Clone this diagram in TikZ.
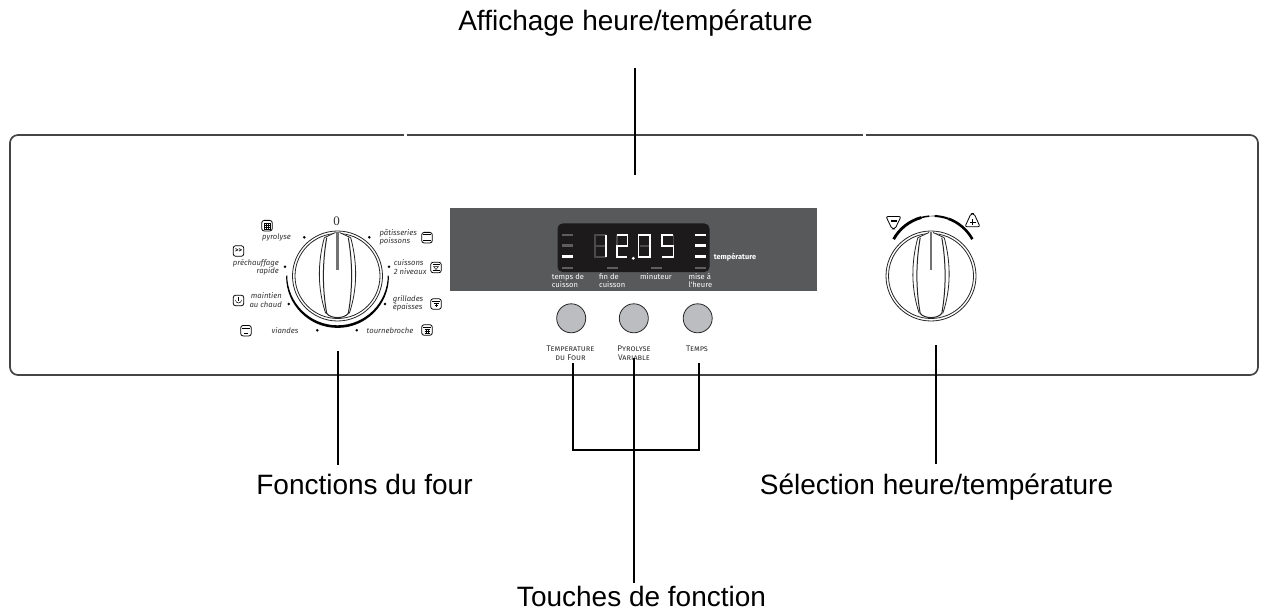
\documentclass[tikz,border=0pt]{standalone}
\usepackage{fontspec}
\setmainfont{Liberation Sans}
\newfontfamily\labfont{Fira Sans}
\newfontfamily\zerofont{Liberation Serif}
\usetikzlibrary{calc}
\definecolor{panelgray}{HTML}{58595B}
\definecolor{dispblack}{HTML}{1C1A1B}
\definecolor{segoff}{HTML}{4A4A4A}
\definecolor{bardimc}{HTML}{5E5E5E}
\definecolor{btn}{HTML}{BCBDC0}
\definecolor{inkgray}{HTML}{333333}
\definecolor{framec}{HTML}{444444}
\tikzset{
  x=1pt,y=-1pt,
  callout/.style={font=\fontsize{28}{32}\selectfont,text=black,inner sep=0pt,anchor=base},
  leader/.style={draw=black,line width=2pt},
  dial/.style={font=\labfont\itshape\fontsize{7.7}{8.2}\selectfont,text=inkgray,inner sep=0pt,align=center},
  lcd/.style={font=\labfont\fontsize{7.6}{8}\selectfont,text=white,inner sep=0pt,align=left,anchor=north west},
  capl/.style={font=\labfont\fontsize{8.2}{9}\selectfont,text=inkgray,inner sep=0pt,align=center},
  tick/.style={circle,fill=black,inner sep=0pt,minimum size=2.8pt},
  icn/.style={draw=black,line width=.8pt,rounded corners=2.5pt,fill=white},
  btnstyle/.style={circle,draw=black!85,line width=.8pt,fill=btn,minimum size=29pt,inner sep=0pt},
  segon/.style={draw=white,line width=1.6pt},
  segdim/.style={draw=segoff,line width=1.6pt},
  bar/.style={draw=white,line width=2.6pt},
  bardim/.style={draw=bardimc,line width=2.4pt}
}
\newcommand{\knob}[2]{%
 \begin{scope}[shift={(#1,#2)}]
  \draw[black!85,line width=.8pt] (0,0) circle (45);
  \draw[black!85,line width=.8pt] (0,0) circle (42.5);
  \fill[white] (-13,-39) .. controls (-20,-12) and (-20,14) .. (-12,37) .. controls (-8,43) and (8,43) .. (12,37) .. controls (20,14) and (20,-12) .. (13,-39) -- (1,-44) -- (-1,-44) -- cycle;
  \draw[black!85,line width=.8pt] (-13.2,-38.3) .. controls (-20,-13) and (-20,13) .. (-11.8,37.3);
  \draw[black!85,line width=.8pt] (13.2,-38.3) .. controls (20,-13) and (20,13) .. (11.8,37.3);
  \draw[black!85,line width=1pt] (-10.8,-38.3) .. controls (-15.2,-13) and (-15.2,13) .. (-10.8,37.3) .. controls (-7,43) and (7,43) .. (10.8,37.3) .. controls (15.2,13) and (15.2,-13) .. (10.8,-38.3);
  \draw[black!85,line width=.8pt] (-13.2,-38.3) -- (-2,-43.5) (13.2,-38.3) -- (2,-43.5);
  \draw[black!55,line width=2.6pt] (0,-44) -- (0,-6);
 \end{scope}}
\newcommand{\ovenicon}[3]{%
 \begin{scope}[shift={(#1,#2)}]
  \draw[icn] (-5.3,-5.3) rectangle (5.3,5.3);
  #3
 \end{scope}}
\begin{document}
\begin{tikzpicture}
\useasboundingbox (0,0) rectangle (1265,612);
\fill[white] (0,0) rectangle (1265,612);
% titles
\node[callout] (tAff) at (635.5,31) {Affichage heure/température};
\node[callout] (tFon) at (364.5,494) {Fonctions du four};
\node[callout] (tSel) at (936.5,494) {Sélection heure/température};
\node[callout] (tTou) at (641.5,606) {Touches de fonction};
% panel
\draw[draw=framec,line width=1.7pt,rounded corners=8pt] (10,135) rectangle (1258,375);
\fill[white] (404,132) rectangle (407,138);
\fill[white] (862.7,132) rectangle (865.7,138);
% display
\fill[panelgray] (450,208) rectangle (817,291);
\fill[dispblack,rounded corners=5pt] (557.5,223.5) rectangle (709.5,272);
% bars
\foreach \y/\s in {235/bardim,245.7/bardim,256.3/bar,267.7/bardim}{\draw[\s] (561.7,\y) -- (572.7,\y);}
\foreach \y/\s in {235/bar,245.7/bar,256.3/bar,267.7/bardim}{\draw[\s] (695,\y) -- (706,\y);}
\draw[bardim] (607.3,267.7) -- (617.7,267.7);
\draw[bardim] (651,267.7) -- (661.7,267.7);
% digits
\begin{scope}[shift={(595,235)}]
 \draw[segdim] (0,0) rectangle (10.5,21.7) (0,10.8) -- (10.5,10.8);
 \draw[segon] (11,0) -- (11,21.7);
\end{scope}
\begin{scope}[shift={(616.7,235)}]
 \draw[segdim] (0,10.8)--(0,0);
 \draw[segon] (0,0) -- (10.7,0) -- (10.7,10.8) -- (0,10.8) -- (0,21.7) -- (10.7,21.7);
\end{scope}
\begin{scope}[shift={(638.5,235)}]
 \draw[segon] (0,0) rectangle (11.3,21.7);
 \draw[segdim] (1,10.8) -- (10.3,10.8);
\end{scope}
\begin{scope}[shift={(662,235)}]
 \draw[segdim] (11.3,0) -- (11.3,10.8);
 \draw[segon] (11.3,0) -- (0,0) -- (0,10.8) -- (11.3,10.8) -- (11.3,21.7) -- (0,21.7);
\end{scope}
\fill[white] (633.3,258.3) circle (1.6);
% lcd labels
\node[lcd] (l1) at (551.7,273.2) {temps de\\cuisson};
\node[lcd] (l2) at (599,273.2) {fin de\\cuisson};
\node[lcd] (l3) at (640,273.2) {minuteur};
\node[lcd] (l4) at (688.3,273.2) {mise à\\l'heure};
\node[lcd,anchor=west,font=\labfont\bfseries\fontsize{7.4}{8}\selectfont] (l5) at (713.7,257.3) {température};
% buttons
\node[btnstyle] (b1) at (571.2,318.3) {};
\node[btnstyle] (b2) at (633.8,318.3) {};
\node[btnstyle] (b3) at (697.7,318.3) {};
\node[capl] (c1) at (570.5,352.8) {\textsc{Temperature}\\\textsc{du Four}};
\node[capl] (c2) at (634,352.8) {\textsc{Pyrolyse}\\\textsc{Variable}};
\node[capl] (c3) at (697,348.3) {\textsc{Temps}};
% left knob
\knob{337.5}{276}
\fill[black] (286.1,276.5) arc[start angle=180,end angle=0,radius=51.4] -- (387.8,275) arc[start angle=0,end angle=180,radius=50.3] -- cycle;
\node[font=\zerofont\fontsize{13}{13}\selectfont,inner sep=0pt,text=inkgray] (zero) at (336.7,221.7) {0};
\foreach \x/\y in {304.3/237.3,369.3/237.3,285/266.7,389/266.7,288.7/304,385/304,317.3/330.3,356.7/330.3}{\node[tick] at (\x,\y) {};}
\node[dial,anchor=east] at (291,237) {pyrolyse};
\node[dial,anchor=west,align=left] at (379.3,237) {pâtisseries\\poissons};
\node[dial,anchor=east,align=right] at (279,267) {préchauffage\\rapide};
\node[dial,anchor=west,align=left] at (393.7,267) {cuissons\\2 niveaux};
\node[dial,anchor=east,align=right] at (282,300) {maintien\\au chaud};
\node[dial,anchor=west,align=left] at (392.7,303.5) {grillades\\épaisses};
\node[dial,anchor=center] at (285,330.7) {viandes};
\node[dial,anchor=center] at (390,330.7) {tournebroche};
% dial icons
\ovenicon{267}{225.7}{\draw[line width=.35pt] (-3,-3) rectangle (3,3);\foreach \a in {-1,1}{\draw[line width=.35pt] (-3,\a) -- (3,\a);}\draw[line width=.35pt] (-1,-3) -- (-1,3) (1,-3) -- (1,3);}
\ovenicon{238.5}{251}{\node[font=\labfont\bfseries\fontsize{6.5}{6.5}\selectfont,inner sep=0pt] at (0,0) {>{}>};}
\ovenicon{238.5}{300.5}{\draw[line width=.5pt] (0,-3.3) -- (0,0.5);\draw[line width=.5pt] (-3,-.5) arc[start angle=180,end angle=0,radius=3];}
\ovenicon{246}{330.7}{\draw[line width=.9pt] (-4,-2.7) -- (4,-2.7);\draw[line width=.6pt] (-2,3) -- (2,3);}
\ovenicon{427}{237.7}{\draw[line width=.8pt] (-4,-3) -- (4,-3) (-4,3) -- (4,3);}
\ovenicon{436}{267.5}{\draw[line width=.7pt] (-3.5,-3) -- (3.5,-3);\draw[line width=.5pt] (-2.5,-1) -- (2.5,-1) -- (0,2) -- cycle;\draw[line width=.6pt] (-3.5,3.2) -- (3.5,3.2);}
\ovenicon{436}{304}{\draw[line width=.8pt] (-4,-3) -- (4,-3);\draw[line width=.5pt] (-2.5,-1) -- (2.5,-1) (-1.5,.8) -- (1.5,.8) (0,-1) -- (0,3);}
\ovenicon{427}{330}{\draw[line width=.8pt] (-4,-3) -- (4,-3);\draw[line width=.35pt] (-2.5,-.8) -- (2.5,-.8) (-2.5,1) -- (2.5,1) (-2.5,2.8) -- (2.5,2.8);\draw[line width=.35pt] (-1,-1) -- (-1,3) (1,-1) -- (1,3);}
% right knob
\draw[black,line width=2.8pt] (933,261) ++(209:45) arc[start angle=209,end angle=255,radius=45];
\draw[black,line width=1.5pt] (933,261) ++(255:45) arc[start angle=255,end angle=265,radius=45];
\draw[black!70,line width=.7pt] (933,261) ++(265:45) arc[start angle=265,end angle=272,radius=45];
\draw[black,line width=2pt] (933,261) ++(272:45) arc[start angle=272,end angle=290,radius=45];
\draw[black,line width=2.6pt] (933,261) ++(290:45) arc[start angle=290,end angle=331,radius=45];
\knob{931}{276}
\draw[black,line width=.8pt,fill=white,rounded corners=2pt] (886,216.5) -- (901,216.5) -- (895,229) -- (892,229) -- cycle;
\draw[black,line width=1.3pt] (890.5,221) -- (896.5,221);
\draw[black,line width=.8pt,fill=white,rounded corners=2pt] (965,226.7) -- (980,226.7) -- (974,213.5) -- (971,213.5) -- cycle;
\draw[black,line width=.9pt] (969.5,222) -- (975.5,222) (972.5,219) -- (972.5,225);
% leaders
\coordinate (a1) at (635,68);
\coordinate (a2) at (635,175);
\draw[leader] (a1) -- (a2);
\coordinate (f1) at (338,351);
\coordinate (f2) at (338,465);
\draw[leader] (f1) -- (f2);
\coordinate (s1) at (935.7,345);
\coordinate (s2) at (935.7,464);
\draw[leader] (s1) -- (s2);
\coordinate (k1) at (572.7,363.3);
\coordinate (k2) at (634,358.3);
\coordinate (k3) at (698.7,363.3);
\coordinate (kb) at (634,450);
\coordinate (ke) at (634,582.7);
\draw[leader,line join=miter] (k1) -- (k1 |- kb) -- (k3 |- kb) -- (k3);
\draw[leader] (k2) -- (ke);
\end{tikzpicture}
\end{document}
